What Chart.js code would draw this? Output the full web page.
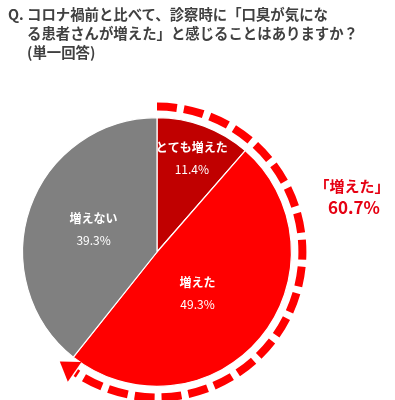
<!DOCTYPE html>
<html><head><meta charset="utf-8">
<script src="https://cdn.jsdelivr.net/npm/chart.js@4/dist/chart.umd.min.js"></script>
<style>
html,body{margin:0;padding:0;background:#fff;}
#wrap{position:relative;width:395px;height:400px;overflow:hidden;}
#c{position:absolute;left:0;top:0;}
#title{position:absolute;left:8px;top:4px;font-family:"Noto Sans CJK JP";font-weight:bold;font-size:14.4px;line-height:19px;color:#404040;}
#title .ind{padding-left:19px;display:block;}
</style></head><body>
<div id="wrap">
<canvas id="c" width="395" height="400"></canvas>
<div id="title">Q. コロナ禍前と比べて、診察時に「口臭が気にな<span class="ind">る患者さんが増えた」と感じることはありますか？</span><span class="ind">(単一回答)</span></div>
</div>
<script>
const categories = ["とても増えた", "増えた", "増えない"];
const values = [11.4, 49.3, 39.3];
const sliceColors = ["#C00000", "#FF0000", "#808080"];
const totalLabel = "「増えた」";
const totalValue = 60.7;

const overlay = {
  id: 'overlay',
  afterDatasetsDraw(chart) {
    const ctx = chart.ctx;
    const meta = chart.getDatasetMeta(0);
    const a0 = meta.data[0];
    const cx = a0.x, cy = a0.y, R = a0.outerRadius;
    ctx.save();
    ctx.textAlign = 'center';
    ctx.textBaseline = 'middle';
    ctx.fillStyle = '#ffffff';
    const fr = [0.74, 0.43, 0.5];
    const shift = [0, 0.1, 0];
    meta.data.forEach((arc, i) => {
      const mid = (arc.startAngle + arc.endAngle) / 2 + shift[i];
      const x = cx + Math.cos(mid) * R * fr[i];
      const y = cy + Math.sin(mid) * R * fr[i];
      ctx.font = 'bold 12px "Noto Sans CJK JP"';
      ctx.fillText(categories[i], x, y - 11);
      ctx.font = '12px "Noto Sans CJK JP"';
      ctx.fillText(values[i].toFixed(1) + '%', x, y + 11);
    });
    // dashed arc
    const start = meta.data[0].startAngle;
    const end = meta.data[1].endAngle;
    const Ra = R + 11;
    ctx.strokeStyle = '#FF0000';
    ctx.lineWidth = 8;
    ctx.setLineDash([20, 7]);
    ctx.beginPath();
    ctx.arc(cx, cy, Ra, start, end - 0.08);
    ctx.stroke();
    ctx.setLineDash([]);
    // arrowhead
    const ab = end - 0.07;
    const bx = cx + Math.cos(ab) * Ra, by = cy + Math.sin(ab) * Ra;
    const tx = -Math.sin(ab), ty = Math.cos(ab);
    const nx = Math.cos(ab), ny = Math.sin(ab);
    ctx.fillStyle = '#FF0000';
    ctx.beginPath();
    ctx.moveTo(bx + nx * 12, by + ny * 12);
    ctx.lineTo(bx - nx * 12, by - ny * 12);
    ctx.lineTo(bx + tx * 18, by + ty * 18);
    ctx.closePath();
    ctx.fill();
    // total label
    ctx.fillStyle = '#E60012';
    ctx.textAlign = 'center';
    ctx.font = 'bold 15px "Noto Sans CJK JP"';
    ctx.fillText(totalLabel, 352, 186);
    ctx.font = 'bold 17px "Noto Sans CJK JP"';
    ctx.fillText(totalValue.toFixed(1) + '%', 354, 208);
    ctx.restore();
  }
};

new Chart(document.getElementById('c'), {
  type: 'pie',
  data: {
    labels: categories,
    datasets: [{
      data: values,
      backgroundColor: sliceColors,
      borderColor: '#ffffff',
      borderWidth: 1.2
    }]
  },
  options: {
    responsive: false,
    animation: false,
    layout: { padding: { left: 22, right: 103, top: 117, bottom: 13 } },
    plugins: { legend: { display: false }, tooltip: { enabled: false } }
  },
  plugins: [overlay]
});
</script>
</body></html>
